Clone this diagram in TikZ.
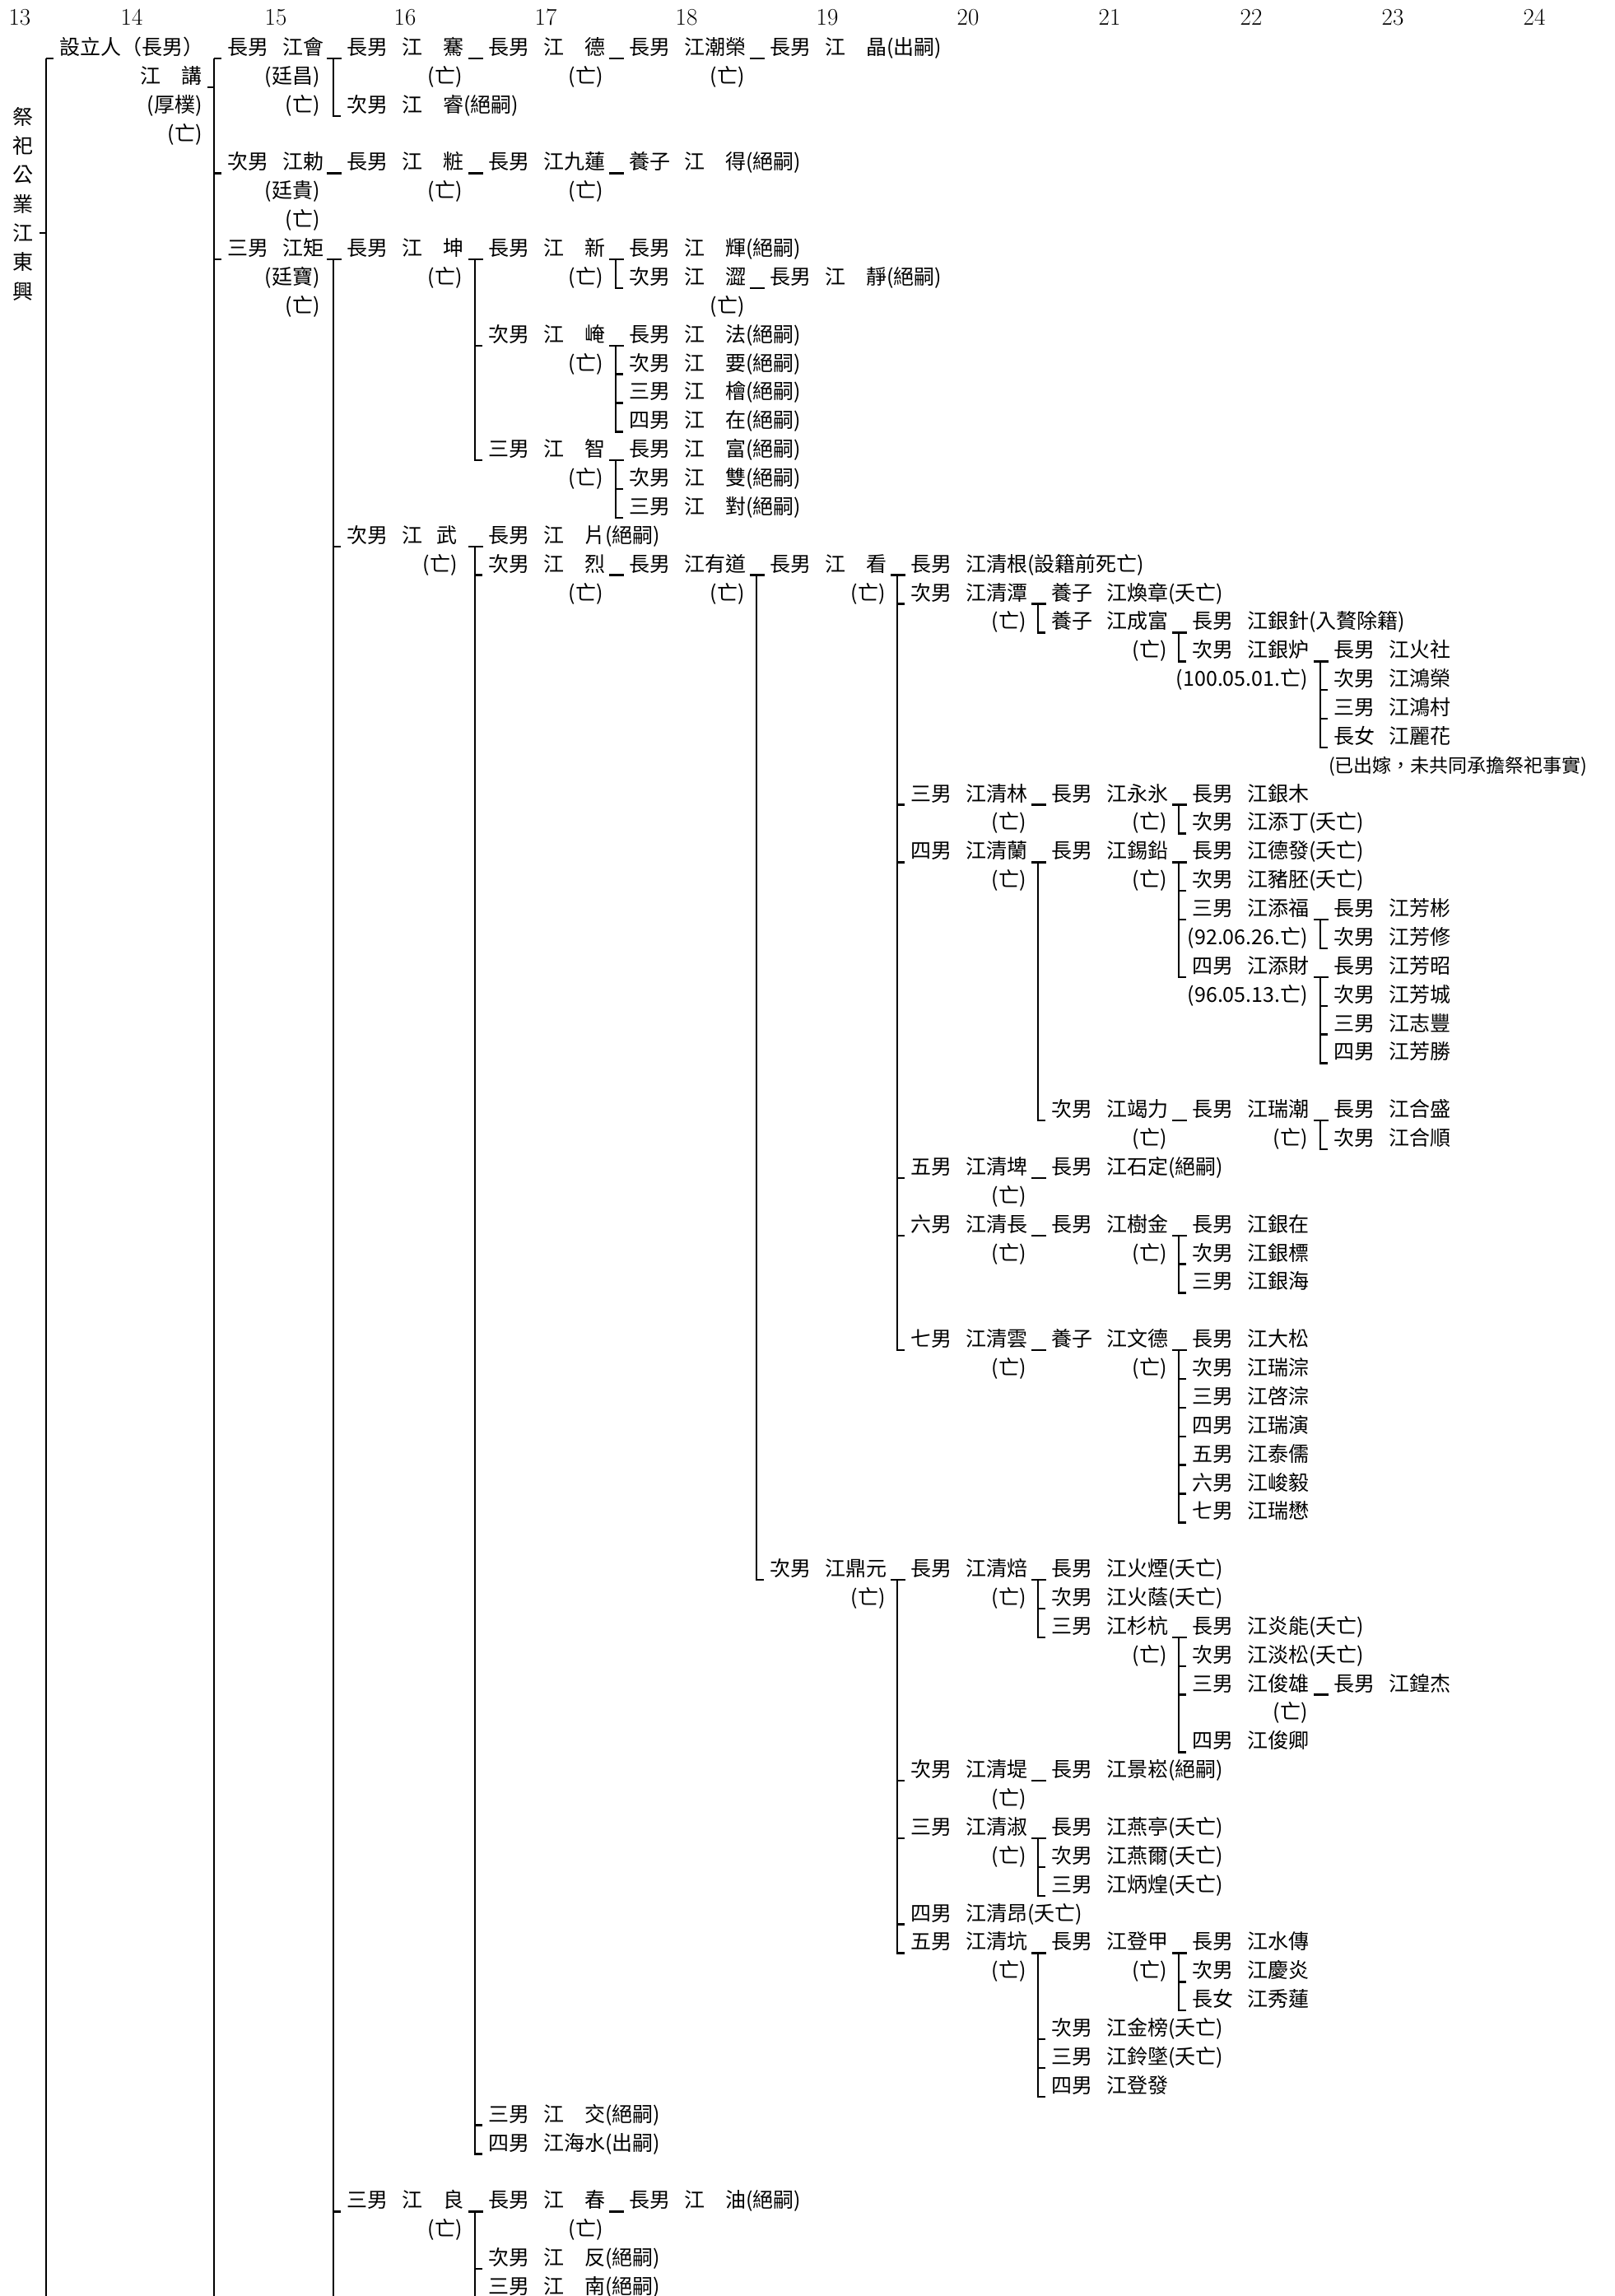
\documentclass[tikz,border=0pt]{standalone}
\usepackage{fontspec}
\newfontfamily\cjk{Noto Sans CJK TC}
\usetikzlibrary{calc}
% half gap between the kinship word and the name
\newcommand{\nsp}{\hspace{0.68em}}

\begin{document}
\begin{tikzpicture}[x=1pt, y=-34.87pt,
    nm/.style={anchor=base west, inner sep=0pt, font=\cjk\fontsize{25}{30}\selectfont},
    dd/.style={nm, anchor=base east},
    ln/.style={line width=2.4pt}]
  \path[use as bounding box, fill=white] (0,-0.9071) rectangle (1962,79.076);
  \coordinate (bot) at (0,79.076);

  % generation numbers along the top
  \foreach \xx/\g in {24/13, 160/14, 335/15, 492/16, 663/17, 834/18, 1005/19, 1176/20, 1348/21, 1520/22, 1692/23, 1864/24}
    \node[inner sep=0pt, font=\fontsize{29}{30}\selectfont] (col\g) at (\xx,-0.305) {\g};

  % the trust, written downwards
  \foreach \c [count=\i] in {祭,祀,公,業,江,東,興}
    \node[nm, anchor=center] (v\i) at (28,{3.165+1.012*(\i-1)}) {\c};

  % founder and courtesy names
  \node[nm] (founder) at (72,1) {設立人（長男）};
  \node[dd] (jiang) at (246,2) {江　講};
  \node[dd] (houpu) at (246,3) {(厚樸)};
  \node[dd] (tingchang) at (389,2) {(廷昌)};
  \node[dd] (tinggui) at (389,6) {(廷貴)};
  \node[dd] (tingbao) at (389,9) {(廷寶)};

  % generations 15 - 19
  \foreach \id/\xx/\rr/\txt in {
      hui/276/1/{長男\nsp 江會}, qian/421/1/{長男\nsp 江　騫}, rui/421/3/{次男\nsp 江　睿(絕嗣)},
      de/593/1/{長男\nsp 江　德}, chaorong/764/1/{長男\nsp 江潮榮}, jing/935/1/{長男\nsp 江　晶(出嗣)},
      chi/276/5/{次男\nsp 江勅}, zhuang/421/5/{長男\nsp 江　粧}, jiulian/593/5/{長男\nsp 江九蓮},
      de2/764/5/{養子\nsp 江　得(絕嗣)},
      ju/276/8/{三男\nsp 江矩}, kun/421/8/{長男\nsp 江　坤}, xin/593/8/{長男\nsp 江　新},
      hui2/764/8/{長男\nsp 江　輝(絕嗣)}, se/764/9/{次男\nsp 江　澀}, jing2/935/9/{長男\nsp 江　靜(絕嗣)},
      yan/593/11/{次男\nsp 江　崦}, fa/764/11/{長男\nsp 江　法(絕嗣)}, yao/764/12/{次男\nsp 江　要(絕嗣)},
      kuai/764/13/{三男\nsp 江　檜(絕嗣)}, zai/764/14/{四男\nsp 江　在(絕嗣)},
      zhi/593/15/{三男\nsp 江　智}, fu/764/15/{長男\nsp 江　富(絕嗣)}, shuang/764/16/{次男\nsp 江　雙(絕嗣)},
      dui/764/17/{三男\nsp 江　對(絕嗣)},
      wu/421/18/{次男\nsp 江\nsp 武}, pian/593/18/{長男\nsp 江　片(絕嗣)},
      lie/593/19/{次男\nsp 江　烈}, youdao/764/19/{長男\nsp 江有道}, kan/935/19/{長男\nsp 江　看},
      jiao/593/73/{三男\nsp 江　交(絕嗣)}, haishui/593/74/{四男\nsp 江海水(出嗣)},
      liang/421/76/{三男\nsp 江　良}, chun/593/76/{長男\nsp 江　春}, you/764/76/{長男\nsp 江　油(絕嗣)},
      fan/593/78/{次男\nsp 江　反(絕嗣)}, nan/593/79/{三男\nsp 江　南(絕嗣)}}
    \node[nm] (\id) at (\xx,\rr) {\txt};

  % branch of 江看
  \foreach \id/\xx/\rr/\txt in {
      qinggen/1106/19/{長男\nsp 江清根(設籍前死亡)},
      qingtan/1106/20/{次男\nsp 江清潭}, huanzhang/1277/20/{養子\nsp 江煥章(夭亡)},
      chengfu/1277/21/{養子\nsp 江成富}, yinzhen/1448/21/{長男\nsp 江銀針(入贅除籍)},
      yinlu/1448/22/{次男\nsp 江銀炉}, huoshe/1620/22/{長男\nsp 江火社},
      hongrong/1620/23/{次男\nsp 江鴻榮}, hongcun/1620/24/{三男\nsp 江鴻村}, lihua/1620/25/{長女\nsp 江麗花},
      qinglin/1106/27/{三男\nsp 江清林}, yongbing/1277/27/{長男\nsp 江永氷}, yinmu/1448/27/{長男\nsp 江銀木},
      tianding/1448/28/{次男\nsp 江添丁(夭亡)},
      qinglan/1106/29/{四男\nsp 江清蘭}, xiqian/1277/29/{長男\nsp 江錫鉛}, defa/1448/29/{長男\nsp 江德發(夭亡)},
      zhupei/1448/30/{次男\nsp 江豬胚(夭亡)},
      tianfu/1448/31/{三男\nsp 江添福}, fangbin/1620/31/{長男\nsp 江芳彬}, fangxiu/1620/32/{次男\nsp 江芳修},
      tiancai/1448/33/{四男\nsp 江添財}, fangzhao/1620/33/{長男\nsp 江芳昭}, fangcheng/1620/34/{次男\nsp 江芳城},
      zhifeng/1620/35/{三男\nsp 江志豐}, fangsheng/1620/36/{四男\nsp 江芳勝},
      jieli/1277/38/{次男\nsp 江竭力}, ruichao/1448/38/{長男\nsp 江瑞潮}, hesheng/1620/38/{長男\nsp 江合盛},
      heshun/1620/39/{次男\nsp 江合順},
      qingpi/1106/40/{五男\nsp 江清埤}, shiding/1277/40/{長男\nsp 江石定(絕嗣)},
      qingchang/1106/42/{六男\nsp 江清長}, shujin/1277/42/{長男\nsp 江樹金}, yinzai/1448/42/{長男\nsp 江銀在},
      yinbiao/1448/43/{次男\nsp 江銀標}, yinhai/1448/44/{三男\nsp 江銀海},
      qingyun/1106/46/{七男\nsp 江清雲}, wende/1277/46/{養子\nsp 江文德}, dasong/1448/46/{長男\nsp 江大松},
      ruicong/1448/47/{次男\nsp 江瑞淙}, qicong/1448/48/{三男\nsp 江啓淙}, ruiyan/1448/49/{四男\nsp 江瑞演},
      tairu/1448/50/{五男\nsp 江泰儒}, junyi/1448/51/{六男\nsp 江峻毅}, ruimao/1448/52/{七男\nsp 江瑞懋}}
    \node[nm] (\id) at (\xx,\rr) {\txt};

  % branch of 江鼎元
  \foreach \id/\xx/\rr/\txt in {
      dingyuan/935/54/{次男\nsp 江鼎元}, qingbei/1106/54/{長男\nsp 江清焙}, huoyan/1277/54/{長男\nsp 江火煙(夭亡)},
      huoyin/1277/55/{次男\nsp 江火蔭(夭亡)}, shanhang/1277/56/{三男\nsp 江杉杭},
      yanneng/1448/56/{長男\nsp 江炎能(夭亡)}, dansong/1448/57/{次男\nsp 江淡松(夭亡)},
      junxiong/1448/58/{三男\nsp 江俊雄}, huangjie/1620/58/{長男\nsp 江鍠杰}, junqing/1448/60/{四男\nsp 江俊卿},
      qingdi/1106/61/{次男\nsp 江清堤}, jingsong/1277/61/{長男\nsp 江景崧(絕嗣)},
      qingshu/1106/63/{三男\nsp 江清淑}, yanting/1277/63/{長男\nsp 江燕亭(夭亡)},
      yaner/1277/64/{次男\nsp 江燕爾(夭亡)}, binghuang/1277/65/{三男\nsp 江炳煌(夭亡)},
      qingang/1106/66/{四男\nsp 江清昂(夭亡)},
      qingkeng/1106/67/{五男\nsp 江清坑}, dengjia/1277/67/{長男\nsp 江登甲}, shuichuan/1448/67/{長男\nsp 江水傳},
      qingyan/1448/68/{次男\nsp 江慶炎}, xiulian/1448/69/{長女\nsp 江秀蓮},
      jinbang/1277/70/{次男\nsp 江金榜(夭亡)}, lingzhui/1277/71/{三男\nsp 江鈴墜(夭亡)},
      dengfa/1277/72/{四男\nsp 江登發}}
    \node[nm] (\id) at (\xx,\rr) {\txt};

  % deceased marks, right aligned under the name
  \foreach \xx/\rr [count=\i] in {246/4, 389/3, 389/7, 389/10, 562/2, 733/2, 905/2, 562/6, 733/6,
      562/9, 733/9, 905/10, 733/12, 733/16, 556/19, 733/20, 905/20, 1076/20, 1247/21, 1418/22,
      1247/28, 1418/28, 1247/30, 1418/30, 1418/39, 1589/39, 1247/41, 1247/43, 1418/43, 1247/47,
      1418/47, 1076/55, 1247/55, 1418/57, 1589/59, 1247/62, 1247/64, 1247/68, 1418/68, 562/77, 733/77}
    \node[dd] (dead\i) at (\xx,\rr) {(亡)};
  \node[dd] (dlu) at (1589,23) {(100.05.01.亡)};
  \node[dd] (dfu) at (1589,32) {(92.06.26.亡)};
  \node[dd] (dcai) at (1589,34) {(96.05.13.亡)};
  \node[nm, font=\cjk\fontsize{23}{26}\selectfont] (married) at (1614,26) {(已出嫁，未共同承擔祭祀事實)};

  % sibling bars, eldest down to youngest
  \foreach \a/\b in {qian/rui, xin/zhi, hui2/se, fa/zai, fu/dui, pian/haishui, kan/dingyuan,
      qinggen/qingyun, huanzhang/chengfu, yinzhen/yinlu, huoshe/lihua, yinmu/tianding, xiqian/jieli,
      defa/tiancai, fangbin/fangxiu, fangzhao/fangsheng, hesheng/heshun, yinzai/yinhai, dasong/ruimao,
      qingbei/qingkeng, huoyan/shanhang, yanneng/junqing, yanting/binghuang, dengjia/dengfa,
      shuichuan/xiulian}
    \draw[ln] ($(\a.base west)+(-16,.13)$) |- ($(\b.base west)+(-7,.13)$);
  % bars that run on past the page
  \foreach \a in {founder, hui, kun, chun} {
    \coordinate (t) at ($(\a.base west)+(-16,.13)$);
    \draw[ln] (t) -- (t |- bot);
  }
  % eldest child on the parent's line
  \foreach \c in {qian, de, chaorong, jing, zhuang, jiulian, de2, kun, xin, hui2, jing2, fa, fu, pian,
      youdao, kan, qinggen, huanzhang, yinzhen, huoshe, yongbing, yinmu, xiqian, defa, fangbin,
      fangzhao, ruichao, hesheng, shiding, shujin, yinzai, wende, dasong, qingbei, huoyan, yanneng,
      huangjie, jingsong, yanting, dengjia, shuichuan, chun, you}
    \draw[ln] ($(\c.base west)+(-24,.13)$) -- ++(18,0);
  % younger children hang off the bar
  \foreach \c in {founder, hui, chi, ju, yan, yao, kuai, shuang, wu, lie, jiao, liang, fan, nan,
      qingtan, qinglin, qinglan, qingpi, qingchang, hongrong, hongcun, zhupei, tianfu, fangcheng,
      zhifeng, yinbiao, ruicong, qicong, ruiyan, tairu, junyi, qingdi, qingshu, qingang, huoyin,
      dansong, junxiong, yaner, jinbang, lingzhui, qingyan}
    \draw[ln] ($(\c.base west)+(-16,.13)$) -- ++(9,0);
  % joins into the first bars
  \draw[ln] ($(jiang.base east)+(6,.13)$) -- ++(9,0);
  \draw[ln] ($(v5.east)+(7.5,0)$) -- ++(8,0);
\end{tikzpicture}
\end{document}
